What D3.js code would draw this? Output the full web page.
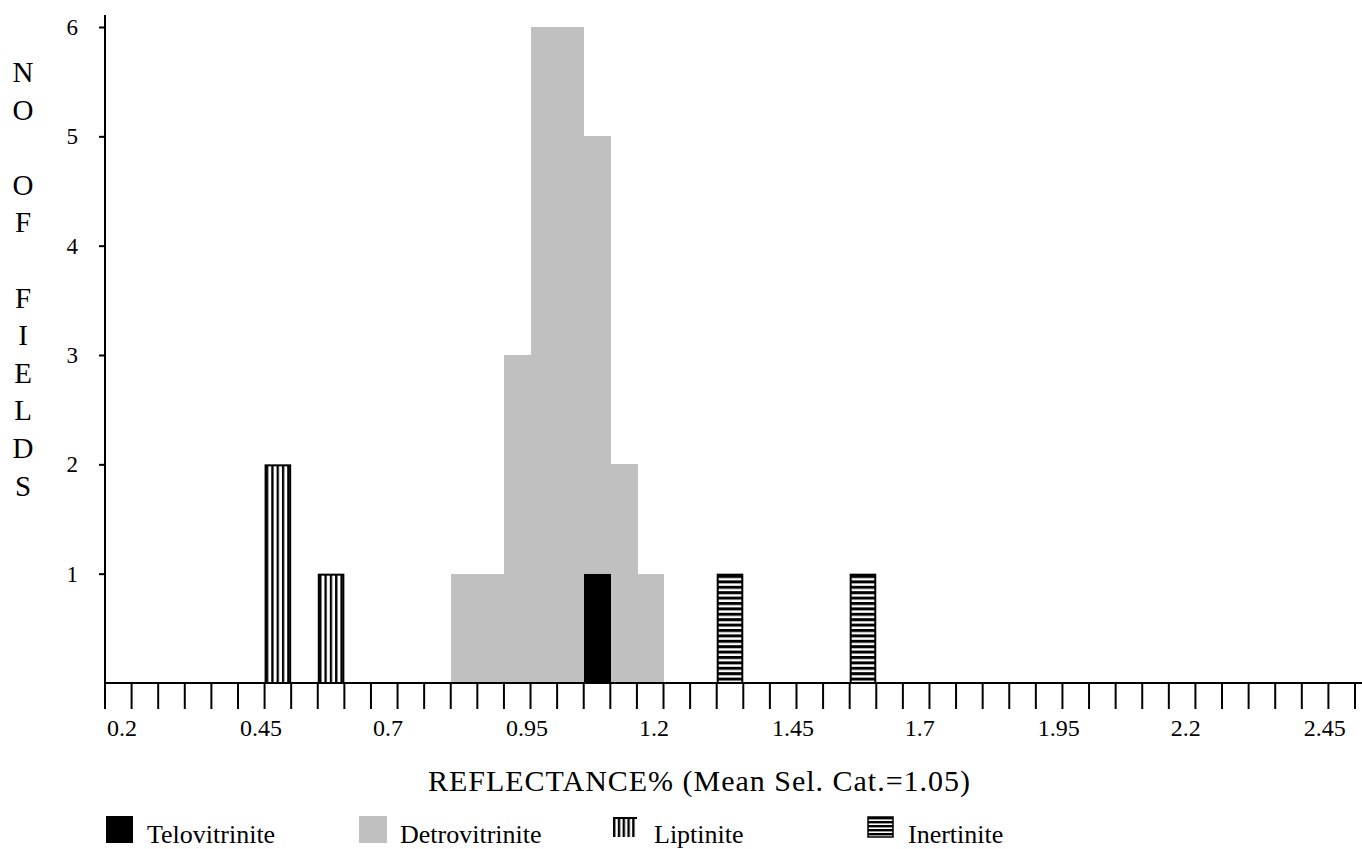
<!DOCTYPE html>
<html>
<head>
<meta charset="utf-8">
<script src="https://cdn.jsdelivr.net/npm/d3@7"></script>
<style>
  body { margin: 0; background: #fff; }
  text { font-family: "Liberation Serif", "Times New Roman", serif; fill: #000; }
</style>
</head>
<body>
<div id="chart"></div>
<script>
// reflectance categories (bin starts), every 0.05
const categories = ["0.20","0.25","0.30","0.35","0.40","0.45","0.50","0.55","0.60","0.65",
  "0.70","0.75","0.80","0.85","0.90","0.95","1.00","1.05","1.10","1.15",
  "1.20","1.25","1.30","1.35","1.40","1.45","1.50","1.55","1.60","1.65",
  "1.70","1.75","1.80","1.85","1.90","1.95","2.00","2.05","2.10","2.15",
  "2.20","2.25","2.30","2.35","2.40","2.45","2.50"];
const tickLabels = ["0.2","0.45","0.7","0.95","1.2","1.45","1.7","1.95","2.2","2.45"];
const yTicks = [1, 2, 3, 4, 5, 6];

const detroCats = ["0.85","0.90","0.95","1.00","1.05","1.10","1.15","1.20"];
const detroVals = [1, 1, 3, 6, 6, 5, 2, 1];
const teloCats = ["1.10"];
const teloVals = [1];
const liptCats = ["0.50","0.60"];
const liptVals = [2, 1];
const inertCats = ["1.35","1.60"];
const inertVals = [1, 1];

const yTitle = ["N","O","","O","F","","F","I","E","L","D","S"];
const xTitle = "REFLECTANCE% (Mean Sel. Cat.=1.05)";

const W = 1362, H = 849;
const svg = d3.select("#chart").append("svg").attr("width", W).attr("height", H);

const x = d3.scaleBand().domain(categories).range([105, 1355]).padding(0);
const y = d3.scaleLinear().domain([0, 6]).range([683, 27]);
const bw = x.bandwidth();

// patterns
const defs = svg.append("defs");
const pv = defs.append("pattern").attr("id", "vstripe").attr("patternUnits", "userSpaceOnUse")
  .attr("width", bw / 5).attr("height", 10);
pv.append("rect").attr("width", bw / 5).attr("height", 10).attr("fill", "#fff");
pv.append("rect").attr("width", 2.3).attr("height", 10).attr("fill", "#000");

const ph = defs.append("pattern").attr("id", "hstripe").attr("patternUnits", "userSpaceOnUse")
  .attr("width", 10).attr("height", 5.4).attr("y", 683);
ph.append("rect").attr("width", 10).attr("height", 5.4).attr("fill", "#fff");
ph.append("rect").attr("width", 10).attr("height", 3).attr("fill", "#000");

const pvL = defs.append("pattern").attr("id", "vstripeL").attr("patternUnits", "userSpaceOnUse")
  .attr("width", 4.8).attr("height", 10).attr("x", 613);
pvL.append("rect").attr("width", 4.8).attr("height", 10).attr("fill", "#fff");
pvL.append("rect").attr("width", 2.4).attr("height", 10).attr("fill", "#000");

const phL = defs.append("pattern").attr("id", "hstripeL").attr("patternUnits", "userSpaceOnUse")
  .attr("width", 10).attr("height", 4).attr("y", 817);
phL.append("rect").attr("width", 10).attr("height", 4).attr("fill", "#fff");
phL.append("rect").attr("width", 10).attr("height", 2.4).attr("fill", "#000");

function bars(cats, vals, fill, stroke) {
  svg.append("g").selectAll("rect")
    .data(cats.map((c, i) => ({ c, v: vals[i] })))
    .enter().append("rect")
    .attr("x", d => x(d.c) + (stroke ? 1 : 0))
    .attr("y", d => y(d.v) + (stroke ? 1 : 0))
    .attr("width", bw - (stroke ? 2 : -0.6))
    .attr("height", d => y(0) - y(d.v) - (stroke ? 1 : 0))
    .attr("fill", fill)
    .attr("stroke", stroke || "none")
    .attr("stroke-width", stroke ? 2 : 0)
    .attr("shape-rendering", stroke ? null : "crispEdges");
}

bars(detroCats, detroVals, "#c0c0c0");
bars(teloCats, teloVals, "#000");
bars(liptCats, liptVals, "url(#vstripe)", "#000");
bars(inertCats, inertVals, "url(#hstripe)", "#000");

// x axis line and boundary ticks
svg.append("line").attr("x1", 105).attr("x2", W).attr("y1", y(0)).attr("y2", y(0))
  .attr("stroke", "#000").attr("stroke-width", 2);
const bounds = categories.map(c => x(c)).concat([x.range()[1]]);
svg.append("g").selectAll("line").data(bounds).enter().append("line")
  .attr("x1", d => d).attr("x2", d => d)
  .attr("y1", y(0)).attr("y2", y(0) + 26)
  .attr("stroke", "#000").attr("stroke-width", 2);

// x tick labels, left aligned at bin start
svg.append("g").selectAll("text").data(tickLabels).enter().append("text")
  .attr("x", d => x(categories.find(c => +c === +d)) + 2)
  .attr("y", 736)
  .attr("font-size", 24)
  .text(d => d);

// y axis
svg.append("line").attr("x1", 105).attr("x2", 105).attr("y1", y(0)).attr("y2", 15)
  .attr("stroke", "#000").attr("stroke-width", 2);
const yAxis = svg.append("g").attr("transform", "translate(105,0)")
  .call(d3.axisLeft(y).tickValues(yTicks).tickSize(6).tickPadding(21).tickFormat(d3.format("d")));
yAxis.select(".domain").remove();
yAxis.selectAll(".tick line").attr("stroke", "#000").attr("stroke-width", 2);
yAxis.selectAll(".tick text")
  .style("font-family", "'Liberation Serif', serif").attr("font-size", 23).attr("fill", "#000");

// y title, stacked letters
svg.append("g").selectAll("text").data(yTitle).enter().append("text")
  .attr("x", 23).attr("y", (d, i) => 82 + i * 37.6)
  .attr("text-anchor", "middle").attr("font-size", 29)
  .text(d => d);

// x title
svg.append("text").attr("x", 699).attr("y", 791).attr("text-anchor", "middle")
  .attr("font-size", 30).attr("textLength", 542).text(xTitle);

// legend
const legend = svg.append("g");
legend.append("rect").attr("x", 106).attr("y", 816).attr("width", 27).attr("height", 27).attr("fill", "#000");
legend.append("text").attr("x", 147).attr("y", 843).attr("font-size", 26).text("Telovitrinite");
legend.append("rect").attr("x", 359).attr("y", 816).attr("width", 28).attr("height", 27).attr("fill", "#c0c0c0");
legend.append("text").attr("x", 400).attr("y", 843).attr("font-size", 26).text("Detrovitrinite");
legend.append("rect").attr("x", 613).attr("y", 817).attr("width", 24).attr("height", 20).attr("fill", "url(#vstripeL)");
legend.append("rect").attr("x", 613).attr("y", 817).attr("width", 24).attr("height", 2).attr("fill", "#000");
legend.append("text").attr("x", 654).attr("y", 843).attr("font-size", 26).text("Liptinite");
legend.append("rect").attr("x", 868).attr("y", 817).attr("width", 25).attr("height", 20).attr("fill", "url(#hstripeL)")
  .attr("stroke", "#000").attr("stroke-width", 1.5);
legend.append("text").attr("x", 908).attr("y", 843).attr("font-size", 26).text("Inertinite");
</script>
</body>
</html>
